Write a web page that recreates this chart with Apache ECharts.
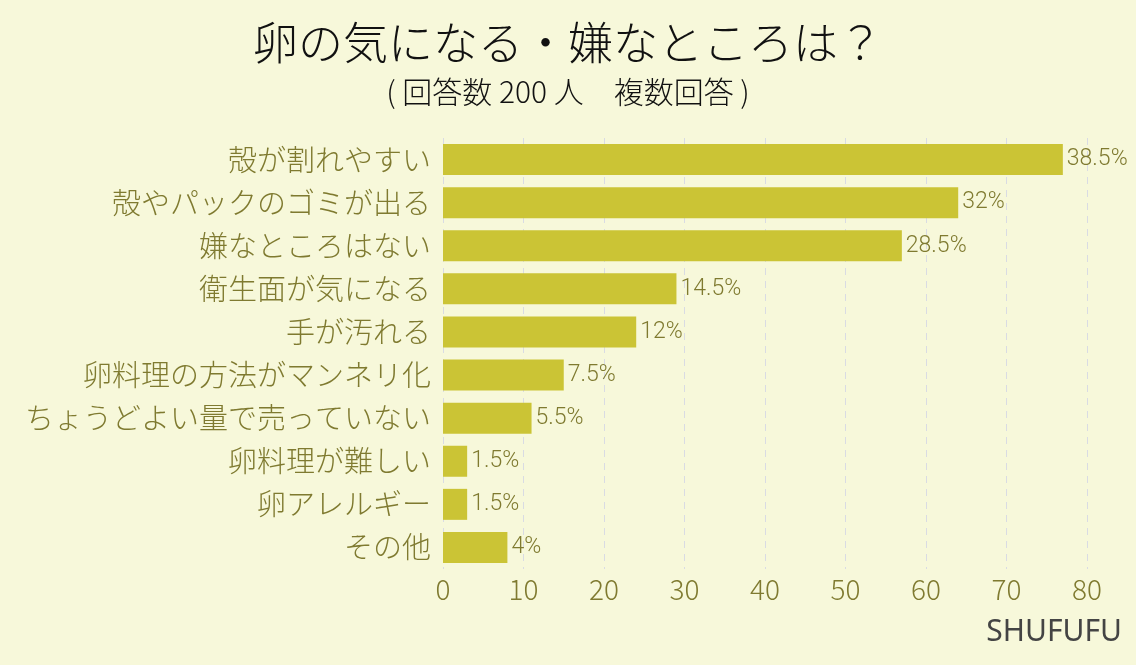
<!DOCTYPE html>
<html><head><meta charset="utf-8">
<script src="https://cdn.jsdelivr.net/npm/echarts@6/dist/echarts.min.js"></script>
<style>html,body{margin:0;padding:0;background:#f7f8da;}#c{width:1136px;height:665px;}</style>
</head><body><div id="c"></div>
<script>
const categories = ['殻が割れやすい','殻やパックのゴミが出る','嫌なところはない','衛生面が気になる','手が汚れる','卵料理の方法がマンネリ化','ちょうどよい量で売っていない','卵料理が難しい','卵アレルギー','その他'];
const counts = [77, 64, 57, 29, 24, 15, 11, 3, 3, 8];
const percentLabels = ['38.5%','32%','28.5%','14.5%','12%','7.5%','5.5%','1.5%','1.5%','4%'];
const xTicks = [0,10,20,30,40,50,60,70,80];
const FONT = '"Noto Sans CJK JP", "Noto Sans", sans-serif';
const chart = echarts.init(document.getElementById('c'));
chart.setOption({
  backgroundColor: '#f7f8da',
  title: [{
    text: '卵の気になる・嫌なところは？',
    left: 'center', top: 15,
    textStyle: {fontFamily: FONT, fontSize: 45, fontWeight: 300, color: '#111'}
  },{
    text: '( 回答数 200 人　複数回答 )',
    left: 'center', top: 72,
    textStyle: {fontFamily: FONT, fontSize: 30, fontWeight: 300, color: '#111'}
  },{
    text: 'SHUFUFU',
    right: 9, top: 612,
    textStyle: {fontFamily: '"Noto Sans", sans-serif', fontSize: 30, fontWeight: 'normal', color: '#444'}
  }],
  grid: {left: 443, right: 49, top: 138, bottom: 96, containLabel: false},
  xAxis: {
    type: 'value', min: 0, max: 80, interval: 10,
    axisLine: {show: false}, axisTick: {show: false},
    splitLine: {show: true, lineStyle: {type: [7, 6], color: '#d9dbe3', width: 1}},
    axisLabel: {fontFamily: FONT, fontSize: 28, fontWeight: 300, color: '#7f7a30', margin: 6,
      formatter: v => xTicks.includes(v) ? String(v) : ''}
  },
  yAxis: {
    type: 'category', data: categories, inverse: true,
    axisLine: {show: false}, axisTick: {show: false},
    axisLabel: {fontFamily: FONT, fontSize: 29, fontWeight: 300, color: '#7f7a30', margin: 12}
  },
  series: [{
    type: 'bar', data: counts, barWidth: 31,
    itemStyle: {color: '#cbc435'},
    label: {show: true, position: 'right', distance: 4, fontFamily: '"Roboto", "Noto Sans", sans-serif', fontSize: 23, fontWeight: 300, color: '#7f7a30',
      formatter: p => percentLabels[p.dataIndex]}
  }],
  animation: false
});
</script></body></html>
